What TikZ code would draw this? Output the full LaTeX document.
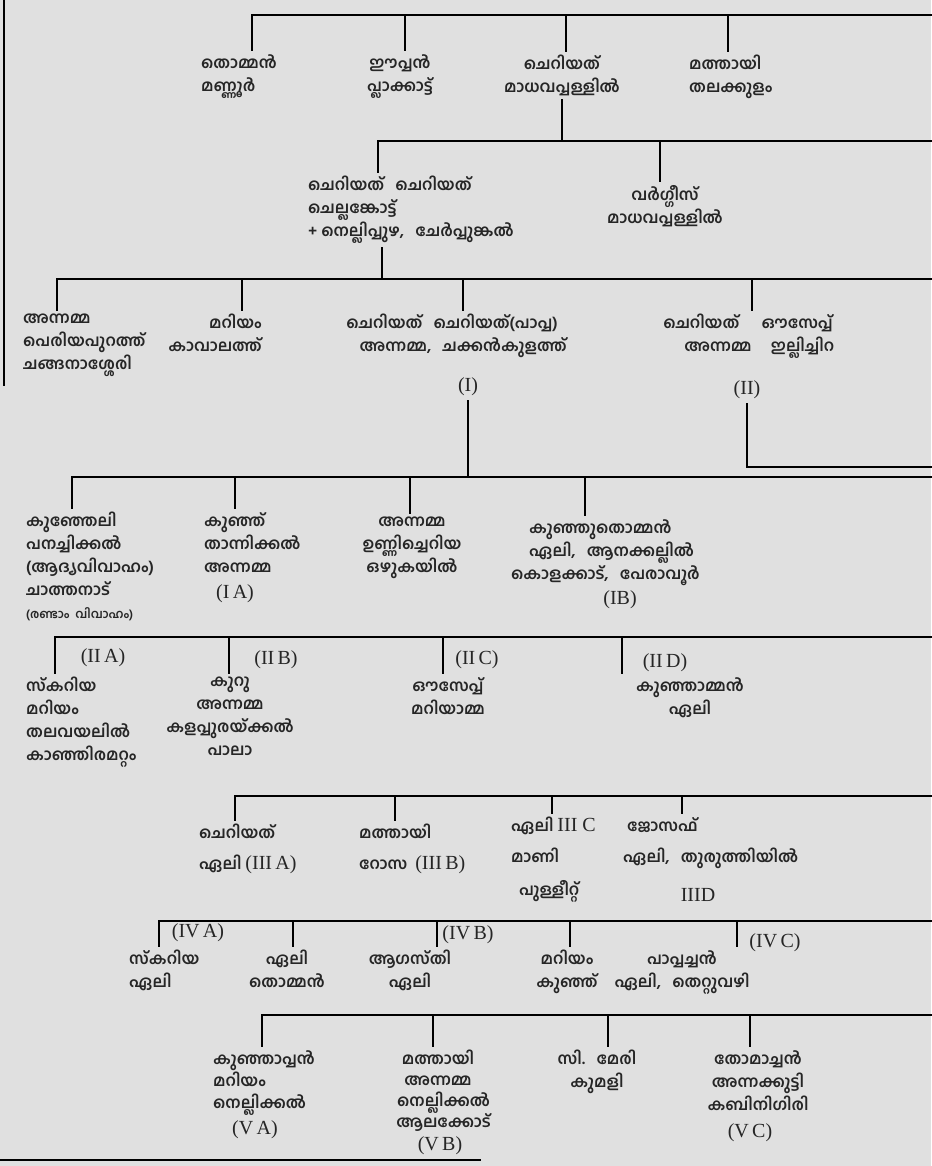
\documentclass[tikz,border=0pt]{standalone}
\usepackage{fontspec}
\newfontfamily\malfont[Script=Malayalam]{Hind Kochi}
\newfontfamily\romfont{Liberation Serif}
\newcommand\romnum[1]{{\romfont\mdseries\fontsize{20}{22}\selectfont #1}}
\newcommand\gap{\hspace{0.7em}}
\usetikzlibrary{positioning}
\begin{document}
\begin{tikzpicture}[x=1pt,y=-1pt,
  mal/.style={font=\malfont\bfseries\fontsize{16}{23}\selectfont,align=center,inner xsep=1pt,inner ysep=4pt,text=black!85},
  rom/.style={font=\romfont\fontsize{20}{22}\selectfont,inner sep=0pt,outer sep=5pt,text=black!85},
  bar/.style={line width=2.8pt,line cap=rect}]
\fill[black!12] (0,0) rectangle (931,1166);
\useasboundingbox (0,0) rectangle (931,1166);

\coordinate (l1) at (4,0); \coordinate (l2) at (4,385);
\coordinate (k1) at (0,1160); \coordinate (k2) at (480,1160);
\draw[bar] (l1) -- (l2);
\draw[bar] (k1) -- (k2);

\coordinate (a1) at (252,15); \coordinate (a2) at (405,15);
\coordinate (a3) at (566,15); \coordinate (a4) at (728,15);
\coordinate (a9) at (931,15);
\node[mal,anchor=north west,align=left] (t1) at (200,50) {തൊമ്മൻ\\മണ്ണൂർ};
\node[mal,anchor=north] (t2) at (400,50) {ഈപ്പൻ\\പ്ലാക്കാട്ട്};
\node[mal,anchor=north] (t3) at (562,51) {ചെറിയത്\\മാധവപ്പള്ളിൽ};
\node[mal,anchor=north west,align=left] (t4) at (688,51) {മത്തായി\\തലക്കുളം};
\draw[bar] (a1) -- (a9);
\foreach \b/\n in {a1/t1,a2/t2,a3/t3,a4/t4}
  {\draw[bar] (\b) -- (\b |- \n.north);}

\coordinate (b1) at (378,141); \coordinate (b2) at (660,141);
\coordinate (b9) at (931,141);
\draw[bar] (t3.south) -- (t3.south |- b1);
\node[mal,anchor=north west,align=left] (s1) at (307,172) {ചെറിയത്\gap ചെറിയത്\\ചെല്ലങ്കോട്ട്\\+ നെല്ലിപ്പുഴ,\gap ചേർപ്പുങ്കൽ};
\node[mal,anchor=north] (s2) at (665,181) {വർഗ്ഗീസ്\\മാധവപ്പള്ളിൽ};
\draw[bar] (b1) -- (b9);
\foreach \b/\n in {b1/s1,b2/s2}
  {\draw[bar] (\b) -- (\b |- \n.north);}

\coordinate (c0) at (382,279);
\coordinate (c1) at (57,279); \coordinate (c2) at (242,279);
\coordinate (c3) at (463,279); \coordinate (c4) at (752,279);
\coordinate (c9) at (931,279);
\draw[bar] (c0) -- (c0 |- s1.south);
\node[mal,anchor=north west,align=left] (u1) at (22,310) {അന്നമ്മ\\പെരിയപുറത്ത്\\ചങ്ങനാശ്ശേരി};
\node[mal,anchor=north east,align=right] (u2) at (263,310) {മറിയം\\കാവാലത്ത്};
\node[mal,anchor=north] (u3) at (452,310) {ചെറിയത്\gap ചെറിയത്(പാപ്പ)\\\gap\gap അന്നമ്മ,\gap ചക്കൻകുളത്ത്};
\node[mal,anchor=north] (u4) at (748,310) {ചെറിയത്\hspace{1.4em}ഔസേപ്പ്\\\gap\gap അന്നമ്മ\hspace{1.2em}ഇല്ലിച്ചിറ};
\node[rom] (uI) at (468,387) {(I)};
\node[rom] (uII) at (747,390) {(II)};
\draw[bar] (c1) -- (c9);
\foreach \b/\n in {c1/u1,c2/u2,c3/u3,c4/u4}
  {\draw[bar] (\b) -- (\b |- \n.north);}

\coordinate (d1) at (72,477); \coordinate (d2) at (235,477);
\coordinate (d3) at (410,477); \coordinate (d4) at (585,477);
\coordinate (d9) at (931,477); \coordinate (d8) at (931,467);
\draw[bar] (uII.south) |- (d8);
\draw[bar] (uI.south) -- (uI.south |- d1);
\node[mal,anchor=north west,align=left] (v1) at (25,508) {കുഞ്ഞേലി\\പനച്ചിക്കൽ\\(ആദ്യവിവാഹം)\\ചാത്തനാട്\\{\fontsize{12}{14}\selectfont(രണ്ടാം\ \ വിവാഹം)}};
\node[mal,anchor=north west,align=left] (v2) at (203,508) {കുഞ്ഞ്\\താന്നിക്കൽ\\അന്നമ്മ};
\node[rom] (vIA) at (235,594) {(I\,A)};
\node[mal,anchor=north] (v3) at (412,513) {അന്നമ്മ\\ഉണ്ണിച്ചെറിയ\\ഒഴുകയിൽ};
\node[mal,anchor=north west,align=left] (v4) at (510,515) {\hspace*{18pt}കുഞ്ഞുതൊമ്മൻ\\\hspace*{18pt}ഏലി,\gap ആനക്കല്ലിൽ\\കൊളക്കാട്,\gap പേരാവൂർ};
\node[rom] (vIB) at (620,600) {(IB)};
\draw[bar] (d1) -- (d9);
\foreach \b/\n in {d1/v1,d2/v2,d3/v3,d4/v4}
  {\draw[bar] (\b) -- (\b |- \n.north);}

\coordinate (e1) at (55,637); \coordinate (e2) at (229,637);
\coordinate (e3) at (443,637); \coordinate (e4) at (622,637);
\coordinate (e9) at (931,637);
\node[rom] (eA) at (103,658) {(II\,A)};
\node[rom] (eB) at (276,660) {(II\,B)};
\node[rom] (eC) at (477,660) {(II\,C)};
\node[rom] (eD) at (665,663) {(II\,D)};
\node[mal,anchor=north west,align=left] (w1) at (25,673) {സ്കറിയ\\മറിയം\\തലവയലിൽ\\കാഞ്ഞിരമറ്റം};
\node[mal,anchor=north] (w2) at (230,673) {കുറു\\അന്നമ്മ\\കളപ്പുരയ്ക്കൽ\\പാലാ};
\node[mal,anchor=north] (w3) at (448,673) {ഔസേപ്പ്\\മറിയാമ്മ};
\node[mal,anchor=north] (w4) at (690,673) {കുഞ്ഞാമ്മൻ\\ഏലി};
\draw[bar] (e1) -- (e9);
\foreach \b/\n in {e1/w1,e2/w2,e3/w3,e4/w4}
  {\draw[bar] (\b) -- (\b |- \n.north);}

\coordinate (f1) at (235,796); \coordinate (f2) at (395,796);
\coordinate (f3) at (552,796); \coordinate (f4) at (682,796);
\coordinate (f9) at (931,796);
\node[mal,anchor=north west,align=left] (x1) at (198,820) {ചെറിയത്\\[8pt]ഏലി \romnum{(III\,A)}};
\node[mal,anchor=north west,align=left] (x2) at (358,820) {മത്തായി\\[8pt]റോസ\ \ \romnum{(III\,B)}};
\node[mal,anchor=north west,align=left] (x3) at (510,813) {ഏലി \romnum{III C}\\[8pt]മാണി\\[10pt]\ \ പുള്ളീറ്റ്};
\node[mal,anchor=north west,align=left] (x4) at (622,813) {\ ജോസഫ്\\[8pt]ഏലി,\gap തുരുത്തിയിൽ};
\node[rom] (xD) at (698,895) {IIID};
\draw[bar] (f1) -- (f9);
\foreach \b/\n in {f1/x1,f2/x2,f3/x3,f4/x4}
  {\draw[bar] (\b) -- (\b |- \n.north);}

\coordinate (g1) at (159,921); \coordinate (g2) at (293,921);
\coordinate (g3) at (437,921); \coordinate (g4) at (570,921);
\coordinate (g5) at (737,921); \coordinate (g9) at (931,921);
\node[rom] (gA) at (198,933) {(IV\,A)};
\node[rom] (gB) at (468,935) {(IV\,B)};
\node[rom] (gC) at (775,943) {(IV\,C)};
\node[mal,anchor=north west,align=left] (y1) at (128,946) {സ്കറിയ\\ഏലി};
\node[mal,anchor=north] (y2) at (287,946) {ഏലി\\തൊമ്മൻ};
\node[mal,anchor=north] (y3) at (410,946) {ആഗസ്തി\\ഏലി};
\node[mal,anchor=north] (y4) at (567,946) {മറിയം\\കുഞ്ഞ്};
\node[mal,anchor=north] (y5) at (682,946) {പാപ്പച്ചൻ\\ഏലി,\gap തെറ്റുവഴി};
\draw[bar] (g1) -- (g9);
\foreach \b/\n in {g1/y1,g2/y2,g3/y3,g4/y4,g5/y5}
  {\draw[bar] (\b) -- (\b |- \n.north);}

\coordinate (h1) at (262,1015); \coordinate (h2) at (433,1015);
\coordinate (h3) at (608,1015); \coordinate (h4) at (750,1015);
\coordinate (h9) at (931,1015);
\node[mal,anchor=north west,align=left,font=\malfont\bfseries\fontsize{16}{22}\selectfont] (z1) at (212,1046) {കുഞ്ഞാപ്പൻ\\മറിയം\\നെല്ലിക്കൽ};
\node[rom] (zA) at (255,1130) {(V\,A)};
\node[mal,anchor=north,font=\malfont\bfseries\fontsize{16}{21}\selectfont] (z2) at (438,1046) {മത്തായി\\അന്നമ്മ\\\gap നെല്ലിക്കൽ\\\gap ആലക്കോട്};
\node[rom] (zB) at (440,1146) {(V\,B)};
\node[mal,anchor=north] (z3) at (597,1046) {സി.\gap മേരി\\കുമളി};
\node[mal,anchor=north] (z4) at (758,1046) {തോമാച്ചൻ\\അന്നക്കുട്ടി\\കബിനിഗിരി};
\node[rom] (zC) at (750,1133) {(V\,C)};
\draw[bar] (h1) -- (h9);
\foreach \b/\n in {h1/z1,h2/z2,h3/z3,h4/z4}
  {\draw[bar] (\b) -- (\b |- \n.north);}
\end{tikzpicture}
\end{document}
